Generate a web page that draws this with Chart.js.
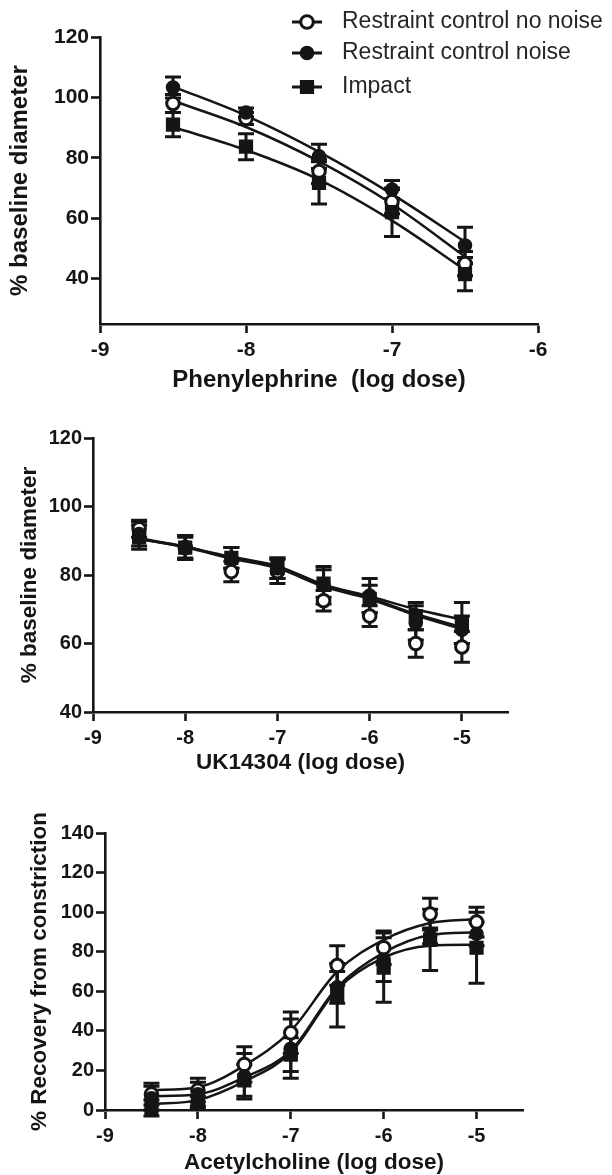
<!DOCTYPE html>
<html><head><meta charset="utf-8">
<script src="https://cdn.jsdelivr.net/npm/chart.js@4.4.1/dist/chart.umd.min.js"></script>
<style>
html,body{margin:0;padding:0;background:#fff;}
#wrap{position:relative;width:612px;height:1175px;overflow:hidden;}
canvas{position:absolute;left:0;}
</style></head><body>
<div id="wrap">
<canvas id="c1" width="612" height="400" style="top:0px"></canvas>
<canvas id="c2" width="612" height="380" style="top:400px"></canvas>
<canvas id="c3" width="612" height="395" style="top:780px"></canvas>
</div>
<script>
// ---------- DATA ----------
const seriesNames = ['Restraint control no noise', 'Restraint control noise', 'Impact'];

// Panel 1: Phenylephrine
const pheDose = [-8.5, -8, -7.5, -7, -6.5];
const pheNoNoise = [98, 93, 75.5, 65.5, 45];
const pheNoNoiseErr = [3, 2, 4, 4, 4];
const pheNoise = [103.3, 95, 80.5, 69.5, 51];
const pheNoiseErr = [3.5, 1.5, 4, 3, 6];
const pheImpact = [91, 83.7, 71.7, 62, 41.5];
const pheImpactErr = [4, 4.3, 7, 8, 5.5];
const pheFitNoNoise = [98.9, 90.2, 78.8, 64.7, 47.3];
const pheFitNoise = [103.6, 94, 82, 68, 52.2];
const pheFitImpact = [90.2, 82.6, 72.8, 59.2, 42.9];
const pheXTicks = [-9, -8, -7, -6];
const pheYTicks = [40, 60, 80, 100, 120];

// Panel 2: UK14304
const ukDose = [-8.5, -8, -7.5, -7, -6.5, -6, -5.5, -5];
const ukNoNoise = [93.5, 88, 81, 81, 72.5, 68, 60, 59];
const ukNoNoiseErr = [2.5, 3, 3, 3.5, 3, 3, 4, 4.5];
const ukNoise = [92, 88, 85, 82, 77, 74, 66, 64];
const ukNoiseErr = [3.5, 3.5, 3, 3, 5.5, 5, 5, 4];
const ukImpact = [91, 88, 85, 82, 77.5, 73, 68, 66];
const ukImpactErr = [3.5, 3.5, 3, 3, 4, 4, 4, 6];
const ukFitNoNoise = [90.6, 88.1, 84.8, 82, 76.6, 73, 68.2, 64.2];
const ukFitNoise = [90.7, 88.3, 85, 82.4, 77, 73.3, 68.6, 64.8];
const ukFitImpact = [90.5, 88.2, 85.3, 82.6, 77.2, 73.8, 70, 67];
const ukXTicks = [-9, -8, -7, -6, -5];
const ukYTicks = [40, 60, 80, 100, 120];

// Panel 3: Acetylcholine
const achDose = [-8.5, -8, -7.5, -7, -6.5, -6, -5.5, -5];
const achNoNoise = [8, 10, 23, 39, 73, 82, 99, 95];
const achNoNoiseErr = [5.5, 6, 9, 10.5, 10, 8.5, 8, 7.5];
const achNoise = [6, 8, 17, 31, 62, 76, 88, 89];
const achNoiseErr = [6, 6, 11.5, 15, 8, 11, 4, 6];
const achImpact = [1, 4, 15, 28, 58, 72, 86, 82];
const achImpactErr = [4, 3, 8, 8.5, 16, 17.5, 15.5, 18];
const achFitNoNoise = [10, 11.5, 22.5, 40, 70, 86, 94.5, 96.5];
const achFitNoise = [7, 8, 16.5, 30, 62, 79.5, 88.4, 89.8];
const achFitImpact = [3, 5, 14.5, 29, 61, 77, 83, 83.5];
const achXTicks = [-9, -8, -7, -6, -5];
const achYTicks = [0, 20, 40, 60, 80, 100, 120, 140];

// ---------- STYLE ----------
const INK = '#151515';
const FONT = "'Liberation Sans', Arial, Helvetica, sans-serif";

const pts = (xs, ys) => xs.map((x, i) => ({x: x, y: ys[i]}));

const markerStyles = [
  {pointStyle: 'circle', radius: 6.3, bg: '#ffffff', bw: 3},
  {pointStyle: 'circle', radius: 6.5, bg: INK, bw: 1.5},
  {pointStyle: 'rect', radius: 9, bg: INK, bw: 1.5}
];

function pointDataset(i, xs, ys, errs) {
  const m = markerStyles[i];
  return {
    label: seriesNames[i], data: pts(xs, ys), errors: errs, showLine: false,
    pointStyle: m.pointStyle, pointRadius: m.radius, pointBackgroundColor: m.bg,
    pointBorderColor: INK, pointBorderWidth: m.bw, borderColor: INK,
    order: 3 - i, clip: false
  };
}
function fitDataset(i, xs, ys) {
  return {
    label: seriesNames[i] + ' fit', data: pts(xs, ys), showLine: true,
    pointRadius: 0, borderColor: INK, borderWidth: 2.5, fill: false,
    cubicInterpolationMode: 'monotone', order: 10 + i, clip: false
  };
}

const errorBars = {
  id: 'errorBars',
  beforeDatasetsDraw(chart) {
    const ctx = chart.ctx, xs = chart.scales.x, ys = chart.scales.y;
    ctx.save();
    ctx.strokeStyle = INK; ctx.lineWidth = 3; ctx.lineCap = 'butt';
    chart.data.datasets.forEach(ds => {
      if (!ds.errors) return;
      ds.data.forEach((p, j) => {
        const e = ds.errors[j];
        const x = xs.getPixelForValue(p.x);
        const yt = ys.getPixelForValue(p.y + e), yb = ys.getPixelForValue(p.y - e);
        ctx.beginPath();
        ctx.moveTo(x, yt); ctx.lineTo(x, yb);
        ctx.moveTo(x - 8, yt); ctx.lineTo(x + 8, yt);
        ctx.moveTo(x - 8, yb); ctx.lineTo(x + 8, yb);
        ctx.stroke();
      });
    });
    ctx.restore();
  }
};

const legendPlugin = {
  id: 'sideLegend',
  afterDraw(chart) {
    const ctx = chart.ctx;
    const rows = [22, 53, 87];
    const mx = 307;
    ctx.save();
    rows.forEach((y, i) => {
      const m = markerStyles[i];
      ctx.strokeStyle = INK; ctx.lineWidth = 3;
      ctx.beginPath(); ctx.moveTo(mx - 15, y); ctx.lineTo(mx + 15, y); ctx.stroke();
      ctx.fillStyle = m.bg; ctx.lineWidth = m.bw;
      ctx.beginPath();
      if (m.pointStyle === 'circle') {
        ctx.arc(mx, y, m.radius, 0, Math.PI * 2);
      } else {
        const s = m.radius * Math.SQRT1_2;
        ctx.rect(mx - s, y - s, 2 * s, 2 * s);
      }
      ctx.fill(); ctx.stroke();
      ctx.fillStyle = '#262626';
      ctx.font = '23px ' + FONT;
      ctx.textBaseline = 'middle'; ctx.textAlign = 'left';
      ctx.fillText(seriesNames[i], 342, y);
    });
    ctx.restore();
  }
};

function makeChart(id, c) {
  const H = document.getElementById(id).height;
  const axisCommon = {
    type: 'linear',
    grid: {display: true, drawOnChartArea: false, drawTicks: true, tickLength: 9, tickWidth: 2.6, color: INK},
    border: {display: true, width: 2.6, color: INK}
  };
  return new Chart(document.getElementById(id), {
    type: 'line',
    data: {datasets: c.datasets},
    options: {
      responsive: false, animation: false, events: [],
      layout: {padding: {left: 0, top: c.area.top, right: 612 - c.area.right, bottom: 0}},
      plugins: {legend: {display: false}, tooltip: {enabled: false}},
      scales: {
        x: Object.assign({}, axisCommon, {
          position: 'bottom', min: c.xMin, max: c.xMax,
          afterBuildTicks: s => { s.ticks = c.xTicks.map(v => ({value: v})); },
          afterFit: s => { s.height = H - c.area.bottom; },
          ticks: {font: {family: FONT, size: c.tickSize, weight: 'bold'}, color: INK, padding: 5, maxRotation: 0, autoSkip: false,
                  callback: v => String(v)},
          title: {display: true, text: c.xTitle, color: INK,
                  font: {family: FONT, size: c.titleSize, weight: 'bold', lineHeight: 1},
                  padding: {top: 0, bottom: c.xTitlePad}}
        }),
        y: Object.assign({}, axisCommon, {
          position: 'left', min: c.yMin, max: c.yMax,
          afterBuildTicks: s => { s.ticks = c.yTicks.map(v => ({value: v})); },
          afterFit: s => { s.width = c.area.left; },
          ticks: {font: {family: FONT, size: c.tickSize, weight: 'bold'}, color: INK, padding: 2, autoSkip: false,
                  callback: v => String(v)},
          title: {display: true, text: c.yTitle, color: INK,
                  font: {family: FONT, size: c.titleSize, weight: 'bold', lineHeight: 1},
                  padding: {top: c.yTitlePad, bottom: 0}}
        })
      }
    },
    plugins: [errorBars].concat(c.legend ? [legendPlugin] : [])
  });
}

makeChart('c1', {
  area: {left: 100, right: 538, top: 37, bottom: 324},
  xMin: -9, xMax: -6, yMin: 25, yMax: 120, xTicks: pheXTicks, yTicks: pheYTicks,
  xTitle: 'Phenylephrine  (log dose)', yTitle: '% baseline diameter',
  tickSize: 21, titleSize: 24, xTitlePad: 8, yTitlePad: 8,
  legend: true,
  datasets: [
    pointDataset(0, pheDose, pheNoNoise, pheNoNoiseErr),
    pointDataset(1, pheDose, pheNoise, pheNoiseErr),
    pointDataset(2, pheDose, pheImpact, pheImpactErr),
    fitDataset(0, pheDose, pheFitNoNoise),
    fitDataset(1, pheDose, pheFitNoise),
    fitDataset(2, pheDose, pheFitImpact)
  ]
});

makeChart('c2', {
  area: {left: 93, right: 508, top: 38, bottom: 312},
  xMin: -9, xMax: -4.5, yMin: 40, yMax: 120, xTicks: ukXTicks, yTicks: ukYTicks,
  xTitle: 'UK14304 (log dose)', yTitle: '% baseline diameter',
  tickSize: 20, titleSize: 22.5, xTitlePad: 5.75, yTitlePad: 18.75,
  datasets: [
    pointDataset(0, ukDose, ukNoNoise, ukNoNoiseErr),
    pointDataset(1, ukDose, ukNoise, ukNoiseErr),
    pointDataset(2, ukDose, ukImpact, ukImpactErr),
    fitDataset(0, ukDose, ukFitNoNoise),
    fitDataset(1, ukDose, ukFitNoise),
    fitDataset(2, ukDose, ukFitImpact)
  ]
});

makeChart('c3', {
  area: {left: 105, right: 523, top: 53, bottom: 330},
  xMin: -9, xMax: -4.5, yMin: 0, yMax: 140, xTicks: achXTicks, yTicks: achYTicks,
  xTitle: 'Acetylcholine (log dose)', yTitle: '% Recovery from constriction',
  tickSize: 20, titleSize: 22.5, xTitlePad: 0.75, yTitlePad: 28.75,
  datasets: [
    pointDataset(0, achDose, achNoNoise, achNoNoiseErr),
    pointDataset(1, achDose, achNoise, achNoiseErr),
    pointDataset(2, achDose, achImpact, achImpactErr),
    fitDataset(0, achDose, achFitNoNoise),
    fitDataset(1, achDose, achFitNoise),
    fitDataset(2, achDose, achFitImpact)
  ]
});
</script>
</body></html>
